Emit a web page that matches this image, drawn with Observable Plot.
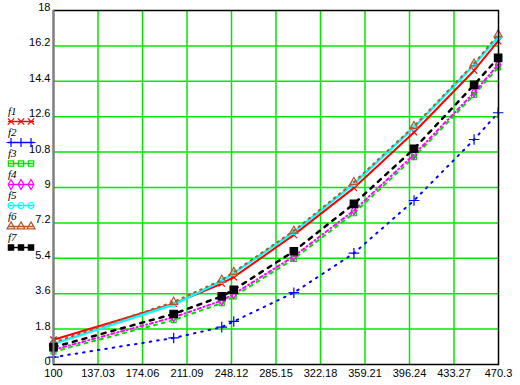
<!DOCTYPE html>
<html><head><meta charset="utf-8">
<script src="https://cdn.jsdelivr.net/npm/d3@7"></script>
<script src="https://cdn.jsdelivr.net/npm/@observablehq/plot@0.6"></script>
<style>
body{margin:0;background:#fff;}
#wrap{position:relative;width:520px;height:385px;}
#legend{position:absolute;left:0;top:0;}
</style>
</head><body><div id="wrap"></div>
<script>
// ---- data ----
const xs = [100, 200, 240, 250, 300, 350, 400, 450, 470];
const f1 = [1.26, 3.09, 4.12, 4.44, 6.59, 8.98, 11.81, 14.95, 16.44];
const f2 = [0.37, 1.35, 1.90, 2.19, 3.65, 5.66, 8.34, 11.44, 12.80];
const f3 = [0.65, 2.26, 3.12, 3.46, 5.37, 7.69, 10.54, 13.71, 15.11];
const f4 = [0.75, 2.40, 3.25, 3.58, 5.50, 7.83, 10.67, 13.83, 15.25];
const f5 = [1.05, 3.05, 4.25, 4.64, 6.73, 9.19, 12.06, 15.24, 16.64];
const f6 = [1.12, 3.18, 4.30, 4.70, 6.80, 9.27, 12.12, 15.30, 16.78];
const f7 = [0.88, 2.57, 3.47, 3.80, 5.76, 8.17, 10.97, 14.22, 15.59];
const seriesNames = ["f1", "f2", "f3", "f4", "f5", "f6", "f7"];
const xTickLabels = ["100", "137.03", "174.06", "211.09", "248.12", "285.15", "322.18", "359.21", "396.24", "433.27", "470.3"];
const yTickLabels = ["0", "1.8", "3.6", "5.4", "7.2", "9", "10.8", "12.6", "14.4", "16.2", "18"];

// ---- styles ----
const styles = [
  {color: "#ff0000", width: 2,   dash: null,      symbol: "times",    fill: "none",    r: 3},
  {color: "#0000ff", width: 2,   dash: "1.5,6",   symbol: "plus",     fill: "none",    r: 3.5},
  {color: "#00e000", width: 2,   dash: "3,5",     symbol: "square",   fill: "none",    r: 2.8},
  {color: "#ff00ff", width: 2,   dash: "3,3,1,3", symbol: "diamond",  fill: "none",    r: 2.8},
  {color: "#00ffff", width: 2.5, dash: null,      symbol: "circle",   fill: "none",    r: 2.5},
  {color: "#b5562a", width: 2,   dash: "1.5,5",   symbol: "triangle", fill: "none",    r: 3},
  {color: "#000000", width: 2.5, dash: "4,6",     symbol: "square",   fill: "#000000", r: 4.2}
];
const allSeries = [f1, f2, f3, f4, f5, f6, f7];

const xTicks = xTickLabels.map(Number);
const yTicks = yTickLabels.map(Number);

const marks = [
  Plot.ruleX(xTicks.slice(1, -1), {stroke: "#00e800", strokeWidth: 1.5}),
  Plot.ruleY(yTicks.slice(1, -1), {stroke: "#00e800", strokeWidth: 1.5})
];
allSeries.forEach((ys, i) => {
  const s = styles[i];
  const data = xs.map((x, j) => ({x, y: ys[j]}));
  marks.push(Plot.line(data, {x: "x", y: "y", stroke: s.color, strokeWidth: s.width, strokeDasharray: s.dash}));
  marks.push(Plot.dot(data, {x: "x", y: "y", symbol: () => s.symbol, stroke: s.color, fill: s.fill, r: s.r, strokeWidth: 1.2}));
});
marks.push(Plot.frame({stroke: "#000", strokeWidth: 1.5}));
marks.push(Plot.ruleX([100], {stroke: "#808080", strokeWidth: 2}));
marks.push(Plot.axisX(xTicks, {tickSize: 0, tickPadding: 5, tickFormat: (d, i) => xTickLabels[i], fontSize: 11, fill: "#000", label: null}));
marks.push(Plot.axisY(yTicks, {tickSize: 0, tickPadding: 3, dy: -3, tickFormat: (d, i) => yTickLabels[i], fontSize: 11, fill: "#000", label: null}));

const chart = Plot.plot({
  width: 520, height: 385,
  marginLeft: 53, marginRight: 22, marginTop: 10, marginBottom: 21,
  style: {fontFamily: "'Liberation Sans', Arial, sans-serif", background: "#fff", overflow: "visible"},
  x: {domain: [100, 470.3], label: null},
  y: {domain: [0, 18], label: null},
  marks
});
document.getElementById("wrap").appendChild(chart);

// ---- legend ----
const leg = d3.select("#wrap").append("svg").attr("id", "legend").attr("width", 45).attr("height", 260);
const symMap = {times: d3.symbolTimes, plus: d3.symbolPlus, square: d3.symbolSquare, diamond: d3.symbolDiamond, circle: d3.symbolCircle, triangle: d3.symbolTriangle};
seriesNames.forEach((name, i) => {
  const s = styles[i];
  const y0 = 112 + i * 21;
  leg.append("text").attr("x", 8).attr("y", y0 + 3).text(name)
    .attr("font-family", "'Liberation Serif', 'Times New Roman', serif").attr("font-style", "italic").attr("font-size", 11);
  leg.append("line").attr("x1", 8).attr("x2", 34).attr("y1", y0 + 9.5).attr("y2", y0 + 9.5)
    .attr("stroke", s.color).attr("stroke-width", 1.5);
  [11, 21, 31].forEach(cx => {
    leg.append("path").attr("d", d3.symbol(symMap[s.symbol], Math.PI * 3 * 3)())
      .attr("transform", `translate(${cx},${y0 + 9.5})`)
      .attr("stroke", s.color).attr("fill", s.fill).attr("stroke-width", 1.2);
  });
});
</script>
</body></html>
